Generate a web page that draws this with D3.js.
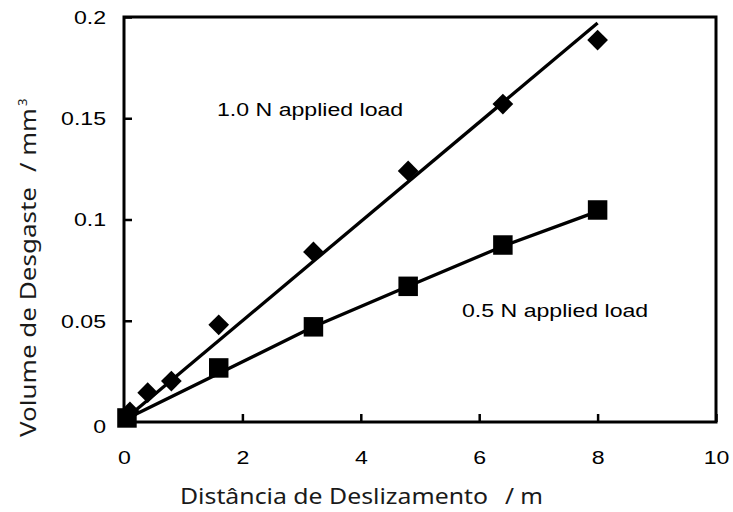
<!DOCTYPE html>
<html>
<head>
<meta charset="utf-8">
<script src="https://cdn.jsdelivr.net/npm/d3@7"></script>
<style>
  html, body { margin: 0; padding: 0; background: #fff; }
  svg { display: block; }
</style>
</head>
<body>
<svg id="chart" width="733" height="512"></svg>
<script>
// ---------- data ----------
const distance1N = [0.1, 0.4, 0.8, 1.6, 3.2, 4.8, 6.4, 8.0];
const volume1N   = [0.005, 0.0145, 0.0202, 0.048, 0.084, 0.124, 0.157, 0.1886];
const distance05N = [0.05, 1.6, 3.2, 4.8, 6.4, 8.0];
const volume05N   = [0.002, 0.0267, 0.047, 0.067, 0.0874, 0.1047];
const fit1NX = [0, 8];
const fit1NY = [0.001, 0.197];
const fit05NX = [0, 3.2, 4.8, 6.4, 8.0];
const fit05NY = [0.001, 0.047, 0.067, 0.0868, 0.104];
const xTicks = [0, 2, 4, 6, 8, 10];
const xTickLabels = ["0", "2", "4", "6", "8", "10"];
const yTicks = [0, 0.05, 0.1, 0.15, 0.2];
const yTickLabels = ["0", "0.05", "0.1", "0.15", "0.2"];
const label1N = "1.0 N applied load";
const label05N = "0.5 N applied load";
const xTitle = "Distância de Deslizamento";
const xUnit = "/ m";
const yTitle = "Volume de Desgaste";
const yUnit = "/ mm";
const yUnitSup = "3";

// ---------- layout ----------
const svg = d3.select("#chart");
const L = 124, R = 716, T = 17, B = 422;
const x = d3.scaleLinear().domain([0, 10]).range([L, R]);
const y = d3.scaleLinear().domain([0, 0.2]).range([B, T]);
const STRETCH = 1.32;
const tickFont = "'Liberation Sans', Arial, Helvetica, sans-serif";
const titleFont = "'Noto Sans', 'Open Sans', sans-serif";

function stretch(sel, factor) {
  sel.each(function () {
    const w = this.getComputedTextLength();
    d3.select(this).attr("textLength", w * factor).attr("lengthAdjust", "spacingAndGlyphs");
  });
}

// ---------- axes ----------
const xAxis = d3.axisBottom(x).tickValues(xTicks)
  .tickFormat((d, i) => xTickLabels[i]).tickSizeInner(-8).tickSizeOuter(0);
const gx = svg.append("g").attr("transform", `translate(0,${B})`).call(xAxis);
gx.select(".domain").remove();
gx.selectAll(".tick line").attr("stroke", "#000").attr("stroke-width", 2.5);
gx.selectAll(".tick text").attr("font-family", tickFont).attr("font-size", 17.5)
  .attr("fill", "#000").attr("dy", 0).attr("y", 42);
stretch(gx.selectAll(".tick text"), STRETCH);

const yAxis = d3.axisLeft(y).tickValues(yTicks)
  .tickFormat((d, i) => yTickLabels[i]).tickSizeInner(-8).tickSizeOuter(0);
const gy = svg.append("g").attr("transform", `translate(${L},0)`).call(yAxis);
gy.select(".domain").remove();
gy.selectAll(".tick line").attr("stroke", "#000").attr("stroke-width", 2.5);
gy.selectAll(".tick text").attr("font-family", tickFont).attr("font-size", 17.5)
  .attr("fill", "#000").attr("x", -18).attr("dy", "0.36em");
stretch(gy.selectAll(".tick text"), STRETCH);
gy.selectAll(".tick").filter(d => d === 0).select("text").attr("dy", "0.6em");

// frame
svg.append("rect").attr("x", L).attr("y", T).attr("width", R - L).attr("height", B - T)
  .attr("fill", "none").attr("stroke", "#000").attr("stroke-width", 3);

// ---------- fit lines ----------
const line = d3.line().x(d => x(d[0])).y(d => y(d[1]));
svg.append("path").datum(d3.zip(fit1NX, fit1NY)).attr("d", line)
  .attr("fill", "none").attr("stroke", "#000").attr("stroke-width", 3.3);
svg.append("path").datum(d3.zip(fit05NX, fit05NY)).attr("d", line)
  .attr("fill", "none").attr("stroke", "#000").attr("stroke-width", 3.3);

// ---------- markers ----------
const diamond = d3.symbol().type(d3.symbolSquare).size(215);
svg.append("g").selectAll("path").data(d3.zip(distance1N, volume1N)).join("path")
  .attr("d", diamond)
  .attr("transform", d => `translate(${x(d[0])},${y(d[1])}) rotate(45)`)
  .attr("fill", "#000");
const square = d3.symbol().type(d3.symbolSquare).size(380);
svg.append("g").selectAll("path").data(d3.zip(distance05N, volume05N)).join("path")
  .attr("d", square)
  .attr("transform", d => `translate(${x(d[0])},${y(d[1])})`)
  .attr("fill", "#000");

// ---------- annotations ----------
const a1 = svg.append("text").attr("x", 217).attr("y", 116).text(label1N)
  .attr("font-family", tickFont).attr("font-size", 17.5).attr("fill", "#000");
stretch(a1, STRETCH);
const a2 = svg.append("text").attr("x", 462).attr("y", 317).text(label05N)
  .attr("font-family", tickFont).attr("font-size", 17.5).attr("fill", "#000");
stretch(a2, STRETCH);

// ---------- axis titles ----------
svg.append("text").attr("x", 180).attr("y", 504).text(xTitle)
  .attr("font-family", titleFont).attr("font-size", 21).attr("fill", "#1a1a1a")
  .attr("textLength", 308).attr("lengthAdjust", "spacingAndGlyphs");
svg.append("text").attr("x", 505).attr("y", 504).text(xUnit)
  .attr("font-family", titleFont).attr("font-size", 21).attr("fill", "#1a1a1a")
  .attr("textLength", 38).attr("lengthAdjust", "spacingAndGlyphs");

const yt = svg.append("g").attr("transform", "translate(36,437) rotate(-90)");
yt.append("text").attr("x", 0).attr("y", 0).text(yTitle)
  .attr("font-family", titleFont).attr("font-size", 21).attr("fill", "#1a1a1a")
  .attr("textLength", 250).attr("lengthAdjust", "spacingAndGlyphs");
yt.append("text").attr("x", 265).attr("y", 0).text(yUnit)
  .attr("font-family", titleFont).attr("font-size", 21).attr("fill", "#1a1a1a")
  .attr("textLength", 64).attr("lengthAdjust", "spacingAndGlyphs");
yt.append("text").attr("x", 331).attr("y", -9).text(yUnitSup)
  .attr("font-family", titleFont).attr("font-size", 13).attr("fill", "#1a1a1a");
</script>
</body>
</html>
